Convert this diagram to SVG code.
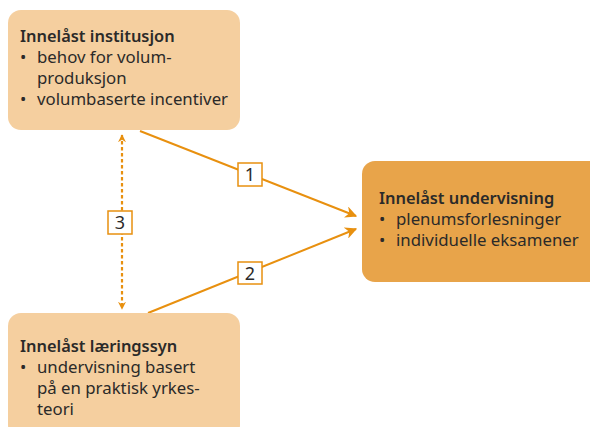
<svg xmlns="http://www.w3.org/2000/svg" width="590" height="427" viewBox="0 0 590 427">
<defs>
<style>
.light{fill:#F5CF9F}
.dark{fill:#E8A44A}
text{font-family:"Noto Sans","Liberation Sans",sans-serif;font-size:16.8px;fill:#2B2A29}
.t{font-weight:600;font-size:16.4px}
.c{stroke:#E8900F;stroke-width:2;fill:none}
.d{stroke-dasharray:3.5 2.5;stroke-width:2.2}
.lb{fill:#fff;stroke:#E8900F;stroke-width:1.5}
.n{font-size:18px;text-anchor:middle}
</style>
<marker id="ah" viewBox="0 0 10 10" refX="9" refY="5" markerWidth="8" markerHeight="8" markerUnits="userSpaceOnUse" orient="auto-start-reverse">
<path d="M0,0 L10,5 L0,10 L3,5 Z" fill="#E8900F"/>
</marker>
<marker id="ah2" viewBox="0 0 10 10" refX="9" refY="5" markerWidth="12" markerHeight="12" markerUnits="userSpaceOnUse" orient="auto-start-reverse">
<path d="M0,0 L10,5 L0,10 L3,5 Z" fill="#E8900F"/>
</marker>
</defs>
<g id="connectors">
<line class="c" x1="140" y1="131" x2="356" y2="216" marker-end="url(#ah2)"/>
<line class="c" x1="148" y1="313" x2="356" y2="229" marker-end="url(#ah2)"/>
<line class="c d" x1="122" y1="135" x2="122" y2="309" marker-start="url(#ah)" marker-end="url(#ah)"/>
<rect class="lb" x="238" y="163" width="24" height="23"/>
<text class="n" x="250" y="181">1</text>
<rect class="lb" x="238" y="262" width="24" height="22"/>
<text class="n" x="250" y="280">2</text>
<rect class="lb" x="108" y="211" width="24" height="23"/>
<text class="n" x="120" y="229">3</text>
</g>
<g id="institusjon">
<rect class="light" x="8" y="10" width="232" height="120" rx="13"/>
<text class="t" x="20" y="42">Innelåst institusjon</text>
<text x="20" y="63">•</text><text x="37" y="63">behov for volum-</text>
<text x="37" y="84">produksjon</text>
<text x="20" y="105">•</text><text x="37" y="105">volumbaserte incentiver</text>
</g>
<g id="undervisning">
<rect class="dark" x="362" y="161" width="240" height="121" rx="13"/>
<text class="t" x="379" y="204">Innelåst undervisning</text>
<text x="379" y="225">•</text><text x="396" y="225">plenumsforlesninger</text>
<text x="379" y="246">•</text><text x="396" y="246">individuelle eksamener</text>
</g>
<g id="laeringssyn">
<rect class="light" x="8" y="313" width="232" height="125" rx="13"/>
<text class="t" x="20" y="352">Innelåst læringssyn</text>
<text x="20" y="373">•</text><text x="37" y="373">undervisning basert</text>
<text x="37" y="394">på en praktisk yrkes-</text>
<text x="37" y="415">teori</text>
</g>
</svg>
